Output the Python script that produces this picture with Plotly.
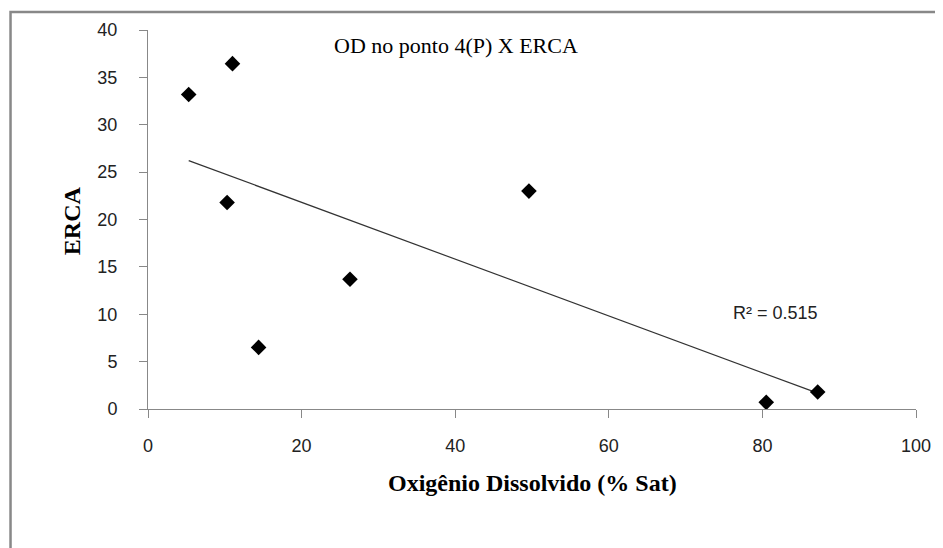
import numpy as np
import plotly.graph_objects as go

# Data
od_sat = [5.3, 11.0, 10.3, 14.4, 26.3, 49.6, 80.5, 87.2]
erca = [33.2, 36.45, 21.8, 6.5, 13.7, 23.0, 0.7, 1.8]
x_ticks = [0, 20, 40, 60, 80, 100]
y_ticks = [0, 5, 10, 15, 20, 25, 30, 35, 40]
r2_label = "R² = 0.515"
chart_title = "OD no ponto 4(P) X ERCA"
x_title = "Oxigênio Dissolvido (% Sat)"
y_title = "ERCA"

# Linear trend line (least squares)
slope, intercept = np.polyfit(od_sat, erca, 1)
x_fit = [min(od_sat), max(od_sat)]
y_fit = [slope * v + intercept for v in x_fit]

fig = go.Figure()
fig.add_trace(go.Scatter(x=x_fit, y=y_fit, mode="lines",
                         line=dict(color="#333333", width=1.2),
                         hoverinfo="skip", showlegend=False))
fig.add_trace(go.Scatter(x=od_sat, y=erca, mode="markers",
                         marker=dict(symbol="diamond", size=12, color="black"),
                         showlegend=False))

tick_font = dict(family="Liberation Sans Narrow, Liberation Sans, sans-serif", size=18, color="#222222")
fig.update_xaxes(range=[0, 100], tickvals=x_ticks, showgrid=False, zeroline=False,
                 showline=True, linecolor="#888888", linewidth=1,
                 ticks="outside", ticklen=8, tickcolor="#888888",
                 ticklabelstandoff=12, tickfont=tick_font)
fig.update_yaxes(range=[0, 40], tickvals=y_ticks, showgrid=False, zeroline=False,
                 showline=True, linecolor="#888888", linewidth=1,
                 ticks="outside", ticklen=8, tickcolor="#888888",
                 ticklabelstandoff=18, tickfont=tick_font)

fig.update_layout(
    width=935, height=540,
    margin=dict(l=140, r=25, t=22, b=139),
    plot_bgcolor="white", paper_bgcolor="white",
    shapes=[dict(type="rect", xref="paper", yref="paper",
                 x0=-0.179, x1=1.2, y0=-0.5, y1=1.0475,
                 line=dict(color="#888888", width=2.5), layer="below")],
    annotations=[
        dict(text=chart_title, xref="paper", yref="paper", x=0.401, y=0.96,
             xanchor="center", yanchor="middle", showarrow=False,
             font=dict(family="Liberation Serif, serif", size=22, color="black")),
        dict(text="<b>" + x_title + "</b>", xref="paper", yref="paper", x=0.5, y=-0.195,
             xanchor="center", yanchor="middle", showarrow=False,
             font=dict(family="Liberation Serif, serif", size=24, color="black")),
        dict(text="<b>" + y_title + "</b>", xref="paper", yref="paper", x=-0.0987, y=0.496,
             xanchor="center", yanchor="middle", showarrow=False, textangle=-90,
             font=dict(family="Liberation Serif, serif", size=24, color="black")),
        dict(text=r2_label, xref="x", yref="y", x=81.7, y=10.1,
             xanchor="center", yanchor="middle", showarrow=False,
             font=dict(family="Liberation Sans Narrow, Liberation Sans, sans-serif", size=18, color="#222222")),
    ],
)

fig.write_html("out.html")
